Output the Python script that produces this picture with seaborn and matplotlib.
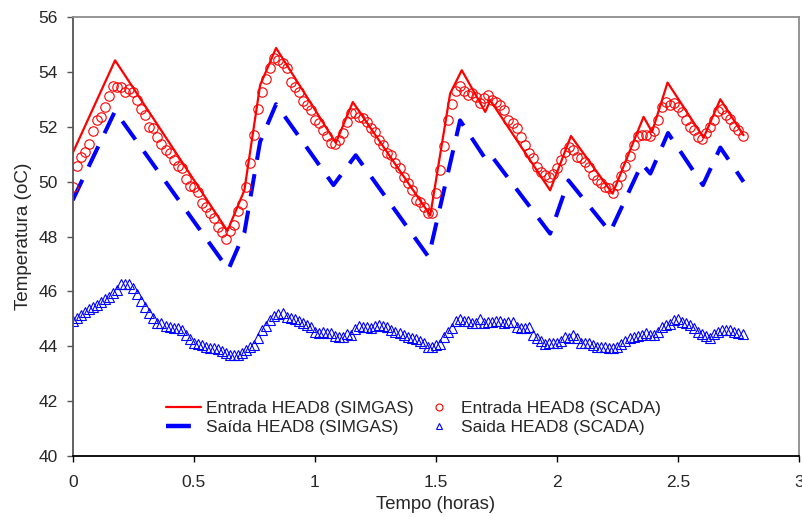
import numpy as np
import pandas as pd
import matplotlib
matplotlib.use("Agg")
import matplotlib.pyplot as plt
import seaborn as sns
from matplotlib.lines import Line2D

# ---------------- data ----------------
# Simulated (SIMGAS) curves: vertices (time in hours, temperature in oC)
t_entrada_sim = [0.0, 0.175, 0.639, 0.709, 0.774, 0.840, 1.087, 1.157, 1.477, 1.559,
                 1.607, 1.704, 1.725, 1.972, 2.058, 2.230, 2.358, 2.393, 2.457, 2.606,
                 2.675, 2.771]
v_entrada_sim = [51.05, 54.43, 48.21, 49.69, 53.52, 54.88, 51.42, 52.91, 48.78, 53.22,
                 54.07, 52.55, 52.97, 49.69, 51.67, 49.57, 52.37, 51.82, 53.62, 51.61,
                 53.01, 51.70]

t_saida_sim = [0.0, 0.175, 0.643, 0.709, 0.774, 0.840, 1.077, 1.169, 1.470, 1.600,
               1.704, 1.725, 1.972, 2.048, 2.220, 2.351, 2.386, 2.459, 2.603, 2.675,
               2.771]
v_saida_sim = [49.33, 52.58, 46.80, 48.14, 51.46, 52.83, 49.88, 50.97, 47.26, 52.24,
               50.85, 51.00, 48.11, 50.05, 48.17, 50.66, 50.30, 51.78, 49.88, 51.25,
               50.00]

# SCADA measurements, one sample per minute
minutes_scada = list(range(167))
v_entrada_scada = [
    49.82, 50.58, 50.92, 51.08, 51.38, 51.86, 52.25, 52.38, 52.74, 53.14,
    53.51, 53.47, 53.44, 53.29, 53.40, 53.29, 52.98, 52.64, 52.44, 52.01,
    51.95, 51.62, 51.38, 51.16, 51.04, 50.80, 50.58, 50.49, 50.12, 49.86,
    49.82, 49.63, 49.24, 49.09, 48.87, 48.68, 48.36, 48.16, 47.90, 48.22,
    48.44, 48.95, 49.18, 49.82, 50.70, 51.71, 52.64, 53.29, 53.75, 54.14,
    54.50, 54.44, 54.32, 54.14, 53.65, 53.47, 53.29, 52.95, 52.80, 52.62,
    52.25, 52.13, 51.89, 51.68, 51.43, 51.38, 51.53, 51.77, 52.19, 52.50,
    52.50, 52.38, 52.32, 52.19, 51.95, 51.83, 51.53, 51.34, 51.04, 50.98,
    50.68, 50.49, 50.19, 49.95, 49.70, 49.34, 49.28, 49.09, 48.85, 48.87,
    49.58, 50.43, 51.31, 52.25, 52.84, 53.32, 53.49, 53.32, 53.17, 53.23,
    53.11, 52.86, 53.05, 53.17, 52.98, 52.92, 52.80, 52.62, 52.25, 52.13,
    51.95, 51.62, 51.34, 51.04, 50.86, 50.55, 50.37, 50.25, 50.19, 50.29,
    50.49, 50.80, 51.10, 51.28, 51.16, 50.92, 50.86, 50.73, 50.55, 50.25,
    50.07, 49.95, 49.82, 49.76, 49.60, 49.88, 50.21, 50.58, 50.94, 51.34,
    51.67, 51.71, 51.71, 51.67, 51.86, 52.25, 52.72, 52.92, 52.80, 52.86,
    52.72, 52.56, 52.25, 52.01, 51.89, 51.65, 51.55, 51.77, 52.01, 52.25,
    52.59, 52.64, 52.44, 52.28, 52.04, 51.89, 51.67]
v_saida_scada = [
    44.94, 45.02, 45.14, 45.26, 45.35, 45.42, 45.51, 45.61, 45.72, 45.79,
    45.93, 46.05, 46.27, 46.27, 46.27, 46.12, 45.91, 45.67, 45.45, 45.23,
    45.02, 44.86, 44.84, 44.74, 44.69, 44.66, 44.66, 44.60, 44.41, 44.26,
    44.11, 44.09, 44.05, 43.96, 43.93, 43.93, 43.92, 43.84, 43.75, 43.68,
    43.68, 43.68, 43.77, 43.87, 43.96, 44.05, 44.29, 44.60, 44.74, 44.96,
    45.11, 45.18, 45.21, 45.08, 45.02, 44.99, 44.94, 44.86, 44.78, 44.69,
    44.53, 44.50, 44.53, 44.50, 44.48, 44.38, 44.35, 44.35, 44.45, 44.41,
    44.62, 44.74, 44.72, 44.69, 44.68, 44.74, 44.78, 44.74, 44.69, 44.60,
    44.53, 44.48, 44.41, 44.35, 44.29, 44.26, 44.21, 44.11,
    43.96, 43.96, 44.05, 44.09, 44.35, 44.53, 44.66, 44.94, 44.99, 44.94,
    44.94, 44.86, 44.84, 44.99, 44.84, 44.90, 44.90, 44.94, 44.94, 44.86,
    44.90, 44.90, 44.72, 44.66, 44.66, 44.69, 44.41, 44.29, 44.21, 44.09,
    44.13, 44.11, 44.13, 44.21, 44.35, 44.29, 44.41, 44.29, 44.13, 44.13,
    44.13, 44.05, 43.96, 43.96, 43.96, 43.93, 43.93, 43.99, 44.09, 44.21,
    44.29, 44.35, 44.38, 44.41, 44.50, 44.41, 44.41, 44.53, 44.69, 44.78,
    44.81, 44.96, 44.99, 44.90, 44.84, 44.78, 44.66, 44.53, 44.45, 44.38,
    44.32, 44.45, 44.53, 44.60, 44.58, 44.58, 44.53, 44.48, 44.45]

x_ticks = [0, 0.5, 1, 1.5, 2, 2.5, 3]
x_tick_labels = ["0", "0.5", "1", "1.5", "2", "2.5", "3"]
y_ticks = [40, 42, 44, 46, 48, 50, 52, 54, 56]
labels = ["Entrada HEAD8 (SIMGAS)", "Saída HEAD8 (SIMGAS)",
          "Entrada HEAD8 (SCADA)", "Saida HEAD8 (SCADA)"]

t_scada = np.array(minutes_scada) / 60.0

# ---------------- plot ----------------
sns.set_style("white")
plt.rcParams['font.family'] = ['Liberation Sans', 'DejaVu Sans']

W, H = 802, 517
fig = plt.figure(figsize=(W / 100, H / 100), dpi=100)
x0, x1, y0, y1 = 72.7, 799.0, 17.3, 456.0
ax = fig.add_axes([x0 / W, 1 - y1 / H, (x1 - x0) / W, (y1 - y0) / H])

RED = "#ff0000"
BLUE = "#0000ff"
DASH = [5.6, 3.6]

sns.lineplot(x=t_entrada_sim, y=v_entrada_sim, ax=ax, color=RED, lw=1.6,
             estimator=None, sort=False)
sns.lineplot(x=t_saida_sim, y=v_saida_sim, ax=ax, color=BLUE, lw=2.9,
             estimator=None, sort=False)
ax.lines[-1].set_dashes(DASH)
ax.lines[-1].set_dash_capstyle('butt')

sns.lineplot(x=t_scada, y=v_entrada_scada, ax=ax, color=RED, linestyle='',
             marker='o', markersize=6.8, markerfacecolor='none',
             markeredgecolor=RED, markeredgewidth=0.8, estimator=None, sort=False)
sns.lineplot(x=t_scada, y=v_saida_scada, ax=ax, color=BLUE, linestyle='',
             marker='^', markersize=6.5, markerfacecolor='none',
             markeredgecolor=BLUE, markeredgewidth=0.8, estimator=None, sort=False)

ax.set_xlim(0, 3)
ax.set_ylim(40, 56)
ax.set_xticks(x_ticks)
ax.set_xticklabels(x_tick_labels)
ax.set_yticks(y_ticks)

for side, col in [("top", "#8c8c8c"), ("right", "#8c8c8c"),
                  ("left", "#555555"), ("bottom", "#000000")]:
    ax.spines[side].set_visible(True)
    ax.spines[side].set_color(col)
    ax.spines[side].set_linewidth(1.3)

ax.tick_params(axis='y', direction='out', length=4.5, width=1, color='#555555',
               pad=6, labelsize=12.5, left=True)
ax.tick_params(axis='x', direction='out', length=4.5, width=1, color='#000000',
               pad=9.5, labelsize=12.5, bottom=True)

ax.set_xlabel("Tempo (horas)", fontsize=13.3, labelpad=4)
ax.set_ylabel("Temperatura (oC)", fontsize=13.6, labelpad=5)

handles = [
    Line2D([], [], color=RED, lw=1.6),
    Line2D([], [], color=BLUE, lw=3.2, dashes=DASH, dash_capstyle='butt'),
    Line2D([], [], color=RED, ls='', marker='o', ms=5, mfc='none', mew=0.8),
    Line2D([], [], color=BLUE, ls='', marker='^', ms=4.5, mfc='none', mew=0.8),
]
ax.legend(handles, labels, ncol=2, frameon=False, fontsize=12.5,
          loc='upper left', bbox_to_anchor=(166 / W, 1 - 401 / H),
          bbox_transform=fig.transFigure, borderpad=0, borderaxespad=0,
          handlelength=2.0, handletextpad=0.3, columnspacing=0.45,
          labelspacing=0.2)

fig.savefig("out.png", dpi=100)
